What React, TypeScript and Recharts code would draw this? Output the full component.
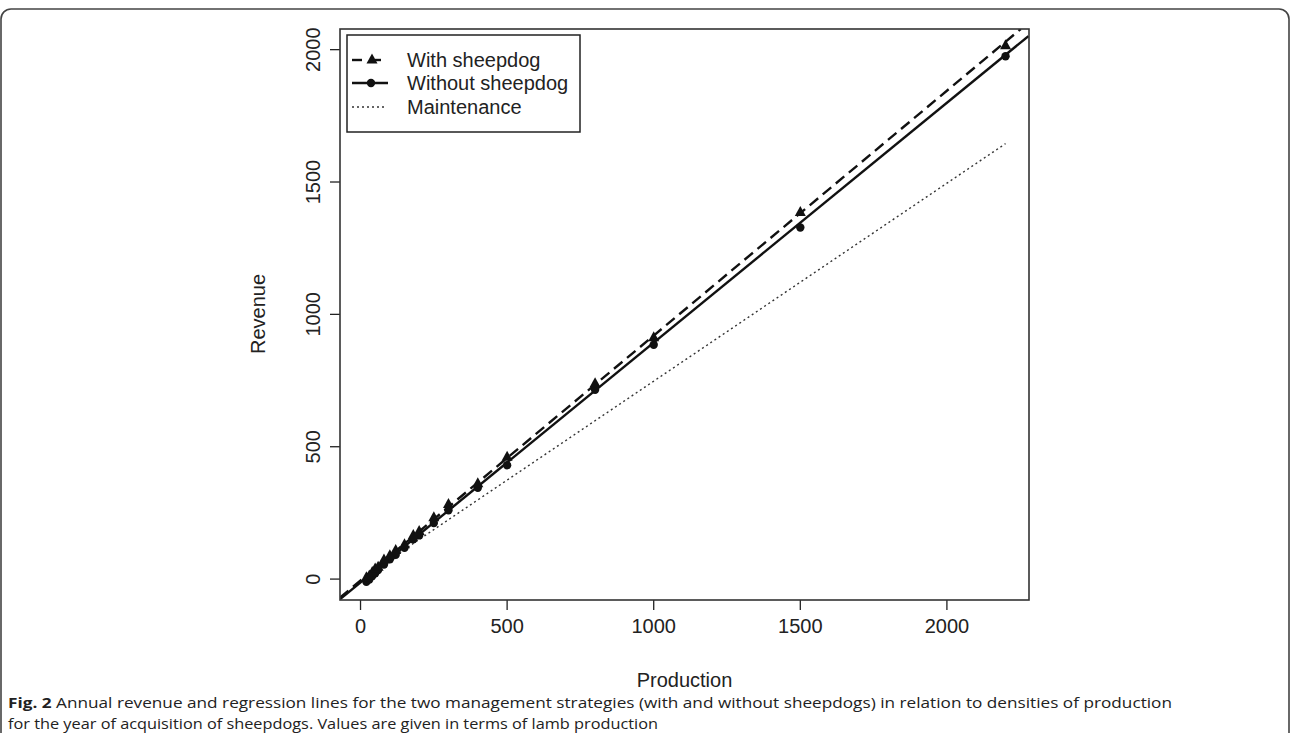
import React from 'react';
import { ScatterChart, Scatter, XAxis, YAxis } from 'recharts';

// observed points (production vs revenue)
const production = [20, 30, 40, 50, 60, 80, 100, 120, 150, 180, 200, 250, 300, 400, 500, 800, 1000, 1500, 2200];
const revenueWith = [5, 12, 25, 38, 45, 72, 88, 108, 130, 165, 180, 232, 282, 360, 460, 738, 912, 1385, 2015];
const revenueWithout = [-10, -2, 12, 22, 34, 55, 75, 92, 118, 150, 165, 212, 260, 345, 430, 715, 885, 1328, 1975];

// regression / maintenance line endpoints
const withFitX = [-70, 2252];
const withFitY = [-70, 2078];
const withoutFitX = [-70, 2278];
const withoutFitY = [-76, 2051];
const maintX = [20, 2200];
const maintY = [15, 1645];

const ticks = [0, 500, 1000, 1500, 2000];

const toPoints = (xs: number[], ys: number[]) => xs.map((x, i) => ({ x, y: ys[i] }));

const withData = toPoints(production, revenueWith);
const withoutData = toPoints(production, revenueWithout);
const withFit = toPoints(withFitX, withFitY);
const withoutFit = toPoints(withoutFitX, withoutFitY);
const maintFit = toPoints(maintX, maintY);

const FONT = "'Liberation Sans', Arial, sans-serif";
const CAPTION_FONT = "'Open Sans', 'Noto Sans', sans-serif";
const INK = '#111';

const Triangle = (props: any) => {
  const { cx, cy } = props;
  if (cx == null || cy == null) return <g />;
  return <polygon points={`${cx},${cy - 6.5} ${cx - 5.5},${cy + 3.5} ${cx + 5.5},${cy + 3.5}`} fill={INK} />;
};

const Dot = (props: any) => {
  const { cx, cy } = props;
  if (cx == null || cy == null) return <g />;
  return <circle cx={cx} cy={cy} r={4.2} fill={INK} />;
};

const NoShape = () => <g />;

const YTick = (props: any) => {
  const { x, y, payload } = props;
  return (
    <text
      x={x}
      y={y}
      transform={`rotate(-90, ${x}, ${y})`}
      textAnchor="middle"
      fontSize={20}
      fontFamily={FONT}
      fill="#222"
    >
      {payload.value}
    </text>
  );
};

const PLOT = { left: 340, top: 29, right: 1029, bottom: 600 };

export default function App() {
  return (
    <div style={{ position: 'absolute', left: 0, top: 0, width: 1292, height: 733, background: '#fff' }}>
      <ScatterChart
        width={1292}
        height={733}
        margin={{ top: PLOT.top, right: 1292 - PLOT.right, left: PLOT.left - 80, bottom: 733 - PLOT.bottom - 60 }}
      >
        <XAxis
          type="number"
          dataKey="x"
          domain={[-70, 2280]}
          ticks={ticks}
          allowDataOverflow
          axisLine={false}
          tickLine={{ stroke: '#222', strokeWidth: 1.3 }}
          tickSize={10}
          tickMargin={9}
          height={60}
          tick={{ fontSize: 20, fill: '#222', fontFamily: FONT }}
        />
        <YAxis
          type="number"
          dataKey="y"
          domain={[-79, 2078]}
          ticks={ticks}
          allowDataOverflow
          axisLine={false}
          tickLine={{ stroke: '#222', strokeWidth: 1.3 }}
          tickSize={10}
          tickMargin={10}
          width={80}
          tick={<YTick />}
        />
        <Scatter
          data={maintFit}
          shape={<NoShape />}
          line={{ stroke: '#333', strokeWidth: 1.4, strokeDasharray: '2 3' }}
          isAnimationActive={false}
        />
        <Scatter
          data={withoutFit}
          shape={<NoShape />}
          line={{ stroke: INK, strokeWidth: 2.4 }}
          isAnimationActive={false}
        />
        <Scatter
          data={withFit}
          shape={<NoShape />}
          line={{ stroke: INK, strokeWidth: 2.4, strokeDasharray: '11 6' }}
          isAnimationActive={false}
        />
        <Scatter data={withoutData} shape={<Dot />} isAnimationActive={false} />
        <Scatter data={withData} shape={<Triangle />} isAnimationActive={false} />
      </ScatterChart>

      <svg
        width={1292}
        height={733}
        style={{ position: 'absolute', left: 0, top: 0, pointerEvents: 'none' }}
      >
        {/* outer figure frame */}
        <rect x={1} y={9} width={1288} height={740} rx={10} fill="none" stroke="#444" strokeWidth={1.6} />

        {/* plot box */}
        <rect
          x={PLOT.left}
          y={PLOT.top}
          width={PLOT.right - PLOT.left}
          height={PLOT.bottom - PLOT.top}
          fill="none"
          stroke="#333"
          strokeWidth={1.6}
        />

        {/* legend */}
        <rect x={347} y={35} width={233} height={97} fill="#fff" stroke="#222" strokeWidth={1.5} />
        <g stroke={INK} strokeWidth={2.4}>
          <line x1={352} y1={60} x2={362} y2={60} />
          <line x1={375} y1={60} x2={381} y2={60} />
          <line x1={352} y1={83} x2={388} y2={83} />
          <line x1={352} y1={107} x2={387} y2={107} stroke="#333" strokeWidth={1.4} strokeDasharray="2 3" />
        </g>
        <polygon points="372,53.5 366.5,63.5 377.5,63.5" fill={INK} />
        <circle cx={371} cy={83} r={4.2} fill={INK} />
        <g fontFamily={FONT} fontSize={20} fill="#222">
          <text x={407} y={67}>With sheepdog</text>
          <text x={407} y={90}>Without sheepdog</text>
          <text x={407} y={114}>Maintenance</text>
        </g>

        {/* axis titles */}
        <text x={684.5} y={687} textAnchor="middle" fontFamily={FONT} fontSize={20} fill="#222">
          Production
        </text>
        <text
          x={265}
          y={314}
          transform="rotate(-90, 265, 314)"
          textAnchor="middle"
          fontFamily={FONT}
          fontSize={20}
          fill="#222"
        >
          Revenue
        </text>

        {/* caption */}
        <text
          x={8}
          y={708}
          fontFamily={CAPTION_FONT}
          fontSize={15}
          fill="#222"
          textLength={1164}
          lengthAdjust="spacingAndGlyphs"
        >
          <tspan fontWeight="bold">Fig. 2</tspan>
          <tspan> Annual revenue and regression lines for the two management strategies (with and without sheepdogs) in relation to densities of production</tspan>
        </text>
        <text
          x={8}
          y={728.5}
          fontFamily={CAPTION_FONT}
          fontSize={15}
          fill="#222"
          textLength={650}
          lengthAdjust="spacingAndGlyphs"
        >
          for the year of acquisition of sheepdogs. Values are given in terms of lamb production
        </text>
      </svg>
    </div>
  );
}
